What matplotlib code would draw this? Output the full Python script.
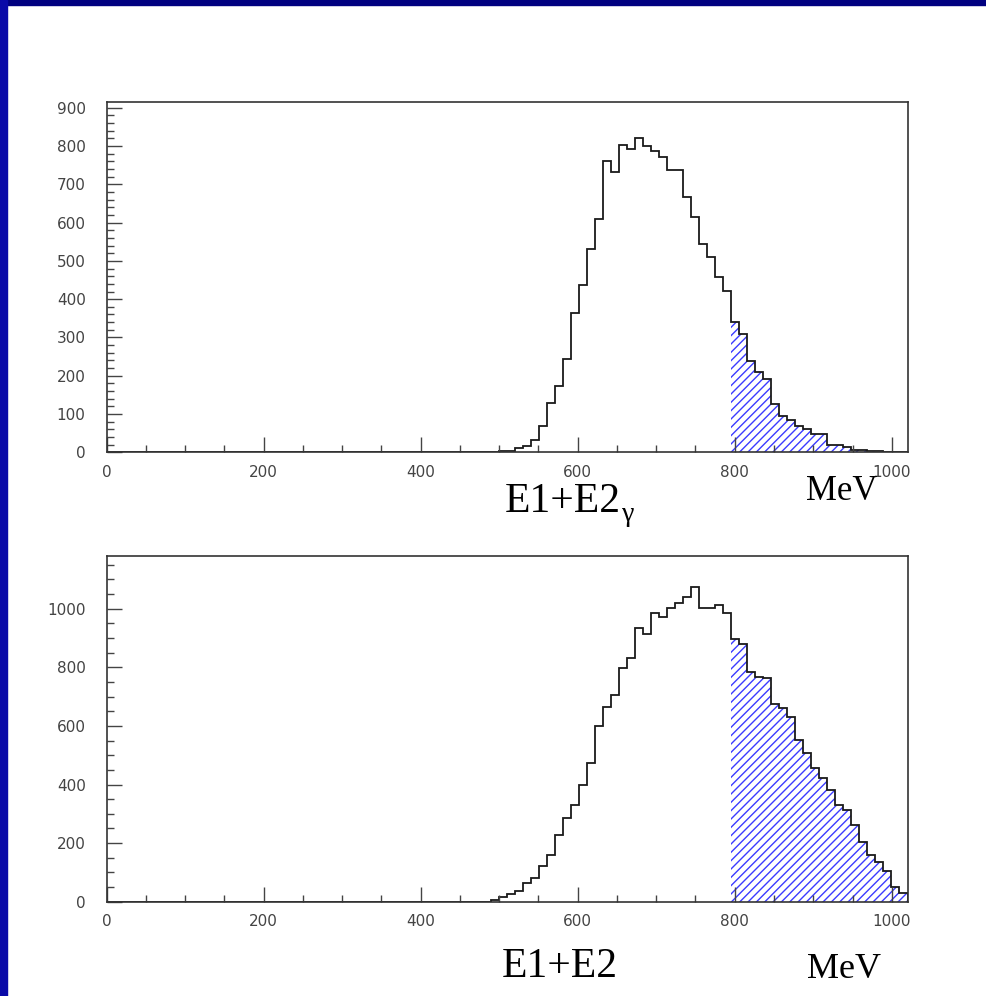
import matplotlib
matplotlib.use("Agg")
import matplotlib.pyplot as plt
from matplotlib.patches import Rectangle
from matplotlib.ticker import MultipleLocator
import numpy as np

# 100 bins from 0 to 1020 MeV; counts listed from the first non-empty bin
x_min, x_max, n_bins = 0, 1020, 100
cut_bin = 78  # hatched tail starts here (~796 MeV)

top_first_bin = 49
top_counts = [3, 3, 10, 16, 31, 70, 130, 173, 245, 365,
              438, 532, 610, 761, 732, 803, 791, 822, 799, 786,
              771, 738, 738, 667, 614, 545, 510, 458, 421, 340,
              310, 238, 210, 191, 125, 94, 84, 70, 62, 47,
              47, 20, 20, 14, 5, 5, 3, 3, 2, 1, 1]

bot_first_bin = 48
bot_counts = [6, 17, 25, 38, 65, 80, 122, 159, 228, 285,
              330, 398, 472, 601, 666, 705, 797, 831, 933, 914,
              984, 973, 1001, 1018, 1041, 1073, 1001, 1001, 1013, 984,
              897, 880, 785, 768, 762, 675, 660, 631, 552, 506,
              455, 421, 381, 330, 313, 262, 205, 159, 137, 106, 49, 31]

top_ylim, bot_ylim = 915, 1180
top_yticks = [0, 100, 200, 300, 400, 500, 600, 700, 800, 900]
bot_yticks = [0, 200, 400, 600, 800, 1000]
xticks = [0, 200, 400, 600, 800, 1000]

W, H = 986, 996
fig = plt.figure(figsize=(W / 100, H / 100), dpi=100)
fig.patch.set_facecolor("white")

# slide frame (blue borders)
fig.patches.append(Rectangle((0, 1 - 5 / H), 1, 5 / H, transform=fig.transFigure,
                             color="#000080", zorder=0))
fig.patches.append(Rectangle((0, 0), 7 / W, 1, transform=fig.transFigure,
                             color="#0a0aa8", zorder=0))

edges = np.linspace(x_min, x_max, n_bins + 1)


def full(first, counts):
    vals = np.zeros(n_bins)
    vals[first:first + len(counts)] = counts
    return vals


def panel(rect, vals, ymax, yticks, yminor):
    ax = fig.add_axes(rect)
    ax.stairs(vals[cut_bin:], edges[cut_bin:], fill=True, facecolor="none",
              edgecolor="#3b3bff", hatch="////", linewidth=0)
    ax.stairs(vals, edges, baseline=0, color="#1a1a1a", linewidth=1.3)
    ax.set_xlim(x_min, x_max)
    ax.set_ylim(0, ymax)
    ax.set_xticks(xticks)
    ax.set_yticks(yticks)
    ax.xaxis.set_minor_locator(MultipleLocator(50))
    ax.yaxis.set_minor_locator(MultipleLocator(yminor))
    ax.tick_params(which="both", direction="in", top=False, right=False,
                   color="#444444", width=1.0, labelsize=11,
                   labelcolor="#444444")
    ax.tick_params(which="major", length=10.8)
    ax.tick_params(which="minor", length=5)
    ax.tick_params(axis="x", pad=9)
    ax.tick_params(axis="y", pad=15)
    for s in ax.spines.values():
        s.set_color("#333333")
        s.set_linewidth(1.2)
    return ax


plt.rcParams["hatch.linewidth"] = 1.0
plt.rcParams["hatch.color"] = "#3b3bff"

left, width = 106.5 / W, 801 / W
panel([left, 1 - 452.3 / H, width, 350.3 / H], full(top_first_bin, top_counts),
      top_ylim, top_yticks, 20)
panel([left, 1 - 901.7 / H, width, 345.7 / H], full(bot_first_bin, bot_counts),
      bot_ylim, bot_yticks, 50)

serif = "Liberation Serif"
fig.text(505 / W, 1 - 512 / H, "E1+E2", fontsize=30, family=serif,
         va="baseline", ha="left")
fig.text(622 / W, 1 - 521 / H, "γ", fontsize=20, family=serif,
         va="baseline", ha="left")
fig.text(806 / W, 1 - 500 / H, "MeV", fontsize=25, family=serif,
         va="baseline", ha="left")
fig.text(501.7 / W, 1 - 977 / H, "E1+E2", fontsize=30, family=serif,
         va="baseline", ha="left")
fig.text(806.7 / W, 1 - 978 / H, "MeV", fontsize=26, family=serif,
         va="baseline", ha="left")

fig.savefig("out.png", dpi=100)
